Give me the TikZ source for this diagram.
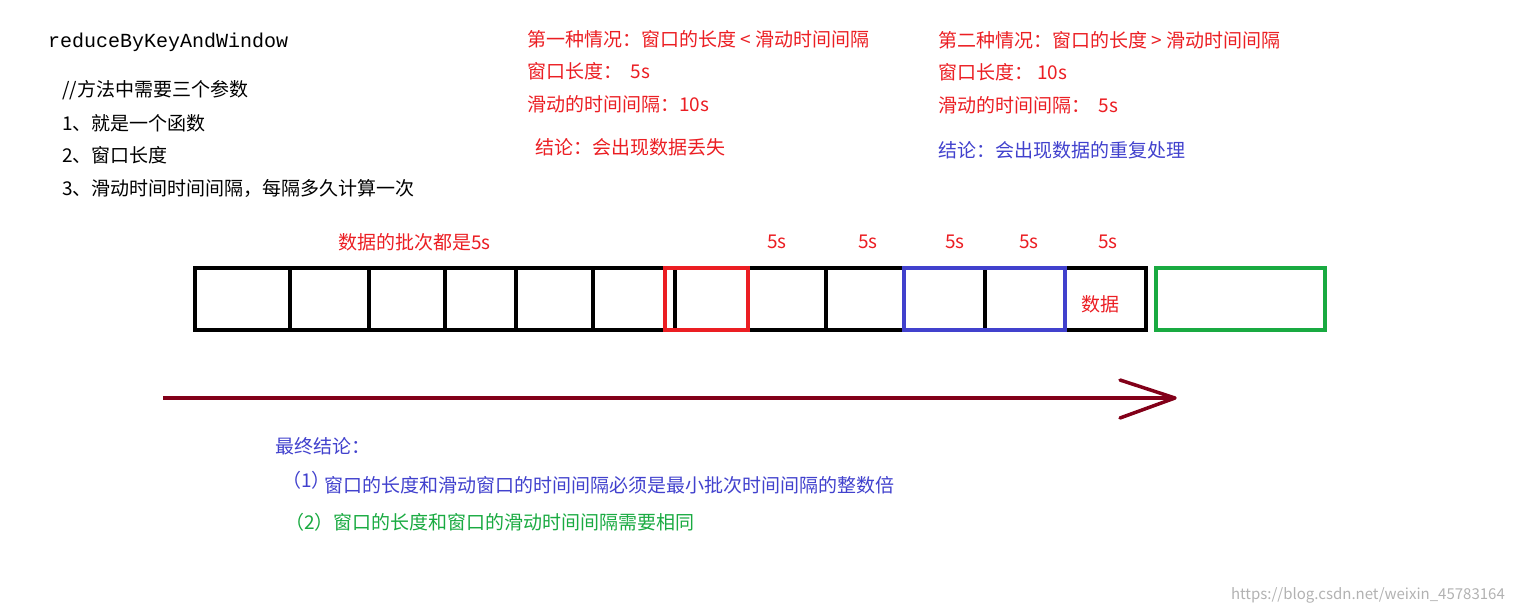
\documentclass[tikz,border=0pt]{standalone}
\usepackage{fontspec}
\setmainfont{Noto Sans CJK SC}
\newfontfamily\monof{Liberation Mono}
\begin{document}
\begin{tikzpicture}[x=1pt,y=-1pt,
  txt/.style={anchor=west,inner sep=0pt,font=\fontsize{19}{22}\selectfont},
  cell/.style={line width=3.5pt,black},
  win/.style={line width=3.5pt}]
\definecolor{myred}{RGB}{235,30,35}
\definecolor{myblue}{RGB}{65,65,205}
\definecolor{mygreen}{RGB}{25,170,65}
\definecolor{arrowred}{RGB}{130,0,25}
\useasboundingbox (0,0) rectangle (1513,614);
\node[txt,font=\monof\fontsize{20}{22}\selectfont] (t0) at (48,42) {reduceByKeyAndWindow};
\node[txt] (t1) at (62,90) {//方法中需要三个参数};
\node[txt] (t2) at (62,123) {1、就是一个函数};
\node[txt] (t3) at (62,155) {2、窗口长度};
\node[txt] (t4) at (62,188) {3、滑动时间时间间隔，每隔多久计算一次};
\begin{scope}[every node/.style={txt,text=myred}]
\node (a1) at (527,39) {第一种情况：窗口的长度 < 滑动时间间隔};
\node (a2) at (527,71) {窗口长度：\ \ 5s};
\node (a3) at (527,104) {滑动的时间间隔：10s};
\node (a4) at (535,147) {结论：会出现数据丢失};
\node (b1) at (938,40) {第二种情况：窗口的长度 > 滑动时间间隔};
\node (b2) at (938,72) {窗口长度：\ 10s};
\node (b3) at (938,105) {滑动的时间间隔：\ \ 5s};
\node (c0) at (338,242) {数据的批次都是5s};
\node (c1) at (767,242) {5s};
\node (c2) at (858,242) {5s};
\node (c3) at (945,242) {5s};
\node (c4) at (1019,242) {5s};
\node (c5) at (1098,242) {5s};
\node (c6) at (1081,304) {数据};
\end{scope}
\node[txt,text=myblue] (b4) at (938,150) {结论：会出现数据的重复处理};
\draw[cell] (195,268) rectangle (1146,330);
\foreach \x in {290,369,445,516,593,675,826,985}
  \draw[cell] (\x,268) -- (\x,330);
\draw[win,myred] (665,268) rectangle (748,330);
\draw[win,myblue] (904,268) rectangle (1065,330);
\draw[win,mygreen] (1156,268) rectangle (1325,330);
\coordinate (as) at (163,398);
\coordinate (ae) at (1175,398);
\draw[arrowred,line width=3.5pt] (as) -- (ae);
\draw[arrowred,line width=3.5pt,line cap=round,line join=round] (1120,380) -- (ae) -- (1120,418);
\node[txt,text=myblue] (d1) at (275,446) {最终结论：};
\node[txt,text=myblue] (d0) at (282,480) {（1）};
\node[txt,text=myblue] (d2) at (324,485) {窗口的长度和滑动窗口的时间间隔必须是最小批次时间间隔的整数倍};
\node[txt,text=mygreen] (d3) at (285,522) {（2）窗口的长度和窗口的滑动时间间隔需要相同};
\node[anchor=east,inner sep=0pt,text=gray!60,font=\fontsize{15}{17}\selectfont] (wm) at (1505,595) {https://blog.csdn.net/weixin\_45783164};
\end{tikzpicture}
\end{document}
